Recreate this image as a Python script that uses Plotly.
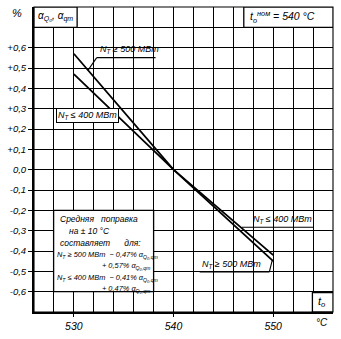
import plotly.graph_objects as go

# ---- data ----
temps = [530, 540, 550]
corr_500 = [0.57, 0.0, -0.45]   # N_T >= 500 MW
corr_400 = [0.47, 0.0, -0.42]   # N_T <= 400 MW

x_grid = list(range(526, 557, 2))
x_ticks = [530, 540, 550]
x_labels = ["530", "540", "550"]
y_grid = [round(-0.7 + 0.1 * i, 1) for i in range(16)]
y_ticks = [0.6, 0.5, 0.4, 0.3, 0.2, 0.1, 0.0, -0.1, -0.2, -0.3, -0.4, -0.5, -0.6]
y_labels = ["+0,6", "+0,5", "+0,4", "+0,3", "+0,2", "+0,1", "0,0",
            "-0,1", "-0,2", "-0,3", "-0,4", "-0,5", "-0,6"]

W, H = 341, 339
L, R, T, B = 28, 333, 7, 320
X0, X1, Y0, Y1 = 526, 556, -0.7, 0.8


def px(xp):
    return X0 + (xp - L) / (R - L) * (X1 - X0)


def py(yp):
    return Y1 - (yp - T) / (B - T) * (Y1 - Y0)


FONT = "Liberation Sans"
INK = "#000"

fig = go.Figure()
for vals in (corr_500, corr_400):
    fig.add_trace(go.Scatter(x=temps, y=vals, mode="lines",
                             line=dict(color=INK, width=1.8), showlegend=False,
                             hoverinfo="skip"))

shapes = []
annots = []


def box(x0, y0, x1, y1, lw=1.3):
    shapes.append(dict(type="rect", xref="x", yref="y", x0=x0, x1=x1, y0=y0, y1=y1,
                       fillcolor="white", line=dict(color=INK, width=lw), layer="above"))


def seg(xa, ya, xb, yb, lw=1.1):
    shapes.append(dict(type="line", xref="x", yref="y", x0=px(xa), y0=py(ya), x1=px(xb), y1=py(yb),
                       line=dict(color=INK, width=lw), layer="above"))


def text(xp, yp, s, size=8, anchor="left"):
    annots.append(dict(x=px(xp), y=py(yp), xref="x", yref="y", text=s, showarrow=False,
                       xanchor=anchor, yanchor="middle",
                       font=dict(family=FONT, size=size, color=INK, style="italic")))


# header boxes
box(X0, 0.7, px(72), 0.8)
box(px(242), 0.7, X1, 0.8)
text(50, 17, "α<sub>Q₀</sub>, α<sub>qт</sub>", size=10, anchor="center")
text(246, 17, "t<sub>o</sub><sup>ном</sup> = 540 °C", size=10.5)

# summary box
box(px(48), -0.6, px(150), -0.2)
text(52, 225, "Средняя   поправка", size=8.5)
text(62, 237, "на ± 10 °C", size=8.5)
text(52, 249, "составляет      для:", size=8.5)
text(49, 262, "N<sub>T</sub> ≥ 500 МВт  − 0,47% α<sub>Q₀,qт</sub>", size=7.4)
text(149, 273, "+ 0,57% α<sub>Q₀,qт</sub>", size=7.4, anchor="right")
text(49, 285, "N<sub>T</sub> ≤ 400 МВт  − 0,41% α<sub>Q₀,qт</sub>", size=7.4)
text(149, 296, "+ 0,47% α<sub>Q₀,qт</sub>", size=7.4, anchor="right")

# line labels
text(93, 51, "N<sub>T</sub> ≥ 500 МВт", size=9)
seg(92, 59, 152, 59)
seg(92, 59, 83, 72)

annots.append(dict(x=px(83), y=py(118), xref="x", yref="y",
                   text="N<sub>T</sub> ≤ 400 МВт", showarrow=False,
                   xanchor="center", yanchor="middle", bgcolor="white",
                   bordercolor=INK, borderwidth=1, borderpad=1,
                   font=dict(family=FONT, size=9, color=INK, style="italic")))

text(249, 225, "N<sub>T</sub> ≤ 400 МВт", size=9)
seg(240, 233, 313, 233)

text(197, 271, "N<sub>T</sub> ≥ 500 МВт", size=9)
seg(197, 279, 268, 279)
seg(268, 279, 271, 267)

# t0 box
box(px(312), Y0, X1, py(300))
text(322, 310, "t<sub>o</sub>", size=11, anchor="center")
annots.append(dict(x=1.0, y=0, xref="paper", yref="paper", text="°C", showarrow=False,
                   xanchor="right", yanchor="top", yshift=-3, xshift=-3,
                   font=dict(family=FONT, size=10, color=INK, style="italic")))
annots.append(dict(x=0, y=1, xref="paper", yref="paper", text="%", showarrow=False,
                   xanchor="right", yanchor="top", xshift=-10, yshift=2,
                   font=dict(family=FONT, size=11, color=INK, style="italic")))

fig.update_layout(
    width=W, height=H,
    margin=dict(l=L, r=W - R, t=T, b=H - B),
    paper_bgcolor="white", plot_bgcolor="white",
    shapes=shapes, annotations=annots,
    xaxis=dict(range=[X0, X1], tickvals=x_ticks, ticktext=x_labels,
               showgrid=True, gridcolor=INK, gridwidth=1.1,
               minor=dict(tickvals=x_grid, showgrid=True, gridcolor=INK, gridwidth=1.1),
               showline=True, linecolor=INK, linewidth=2, mirror=False,
               ticks="outside", ticklen=3, tickcolor=INK, zeroline=False,
               tickfont=dict(family=FONT, size=10.5, color=INK, style="italic")),
    yaxis=dict(range=[Y0, Y1], tickvals=y_ticks, ticktext=y_labels,
               showgrid=True, gridcolor=INK, gridwidth=1.1,
               minor=dict(tickvals=y_grid, showgrid=True, gridcolor=INK, gridwidth=1.1),
               showline=True, linecolor=INK, linewidth=2,
               ticks="outside", ticklen=4, tickcolor=INK, zeroline=False,
               tickfont=dict(family=FONT, size=9.5, color=INK, style="italic")),
)
fig.add_shape(type="rect", xref="paper", yref="paper", x0=0, x1=1, y0=0, y1=1,
              line=dict(color=INK, width=1.1), fillcolor="rgba(0,0,0,0)", layer="below")

fig.write_html("out.html")
